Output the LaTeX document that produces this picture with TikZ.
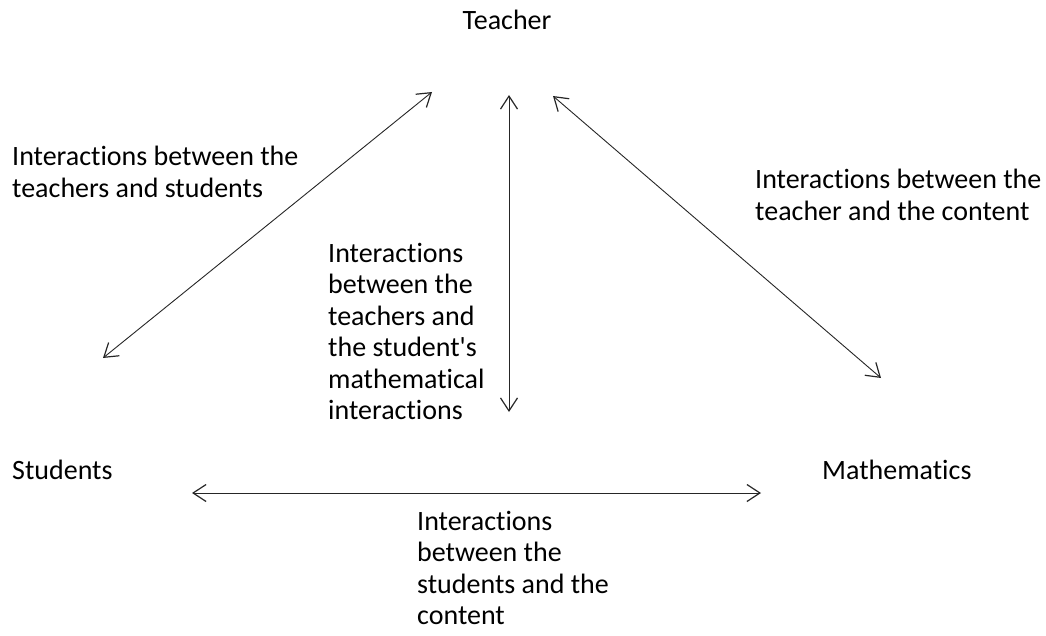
\documentclass[tikz,border=0pt]{standalone}
\usepackage{fontspec}
\setmainfont{Carlito}[Ligatures=NoCommon]
\usetikzlibrary{arrows.meta}
\begin{document}
\begin{tikzpicture}[x=1pt,y=-1pt,
  lbl/.style={inner sep=0pt, align=left, anchor=north west, font=\fontsize{28}{31.5}\selectfont},
  conn/.style={line width=0.9pt, draw=black!85, {Straight Barb[length=13pt,width=17pt,line width=1.2pt]}-{Straight Barb[length=13pt,width=17pt,line width=1.2pt]}}]
\useasboundingbox (0,0) rectangle (1046,636);
\node[lbl, anchor=north] (teacher) at (507,10) {Teacher};
\node[lbl] (students) at (12,460) {Students};
\node[lbl] (math) at (822,460) {Mathematics};
\node[lbl] (lts) at (12,146) {Interactions between the\\teachers and students};
\node[lbl] (ltc) at (755,169) {Interactions between the\\teacher and the content};
\node[lbl] (lmid) at (328,243) {Interactions\\between the\\teachers and\\the student\textquotesingle s\\mathematical\\interactions};
\node[lbl] (lsc) at (417,511) {Interactions\\between the\\students and the\\content};
\coordinate (a1) at (103,358); \coordinate (a2) at (432,92);
\coordinate (b1) at (509,95); \coordinate (b2) at (509,412);
\coordinate (c1) at (553,96); \coordinate (c2) at (881,378);
\coordinate (d1) at (192,493); \coordinate (d2) at (761,493);
\draw[conn] (a1) -- (a2);
\draw[conn] (b1) -- (b2);
\draw[conn] (c1) -- (c2);
\draw[conn] (d1) -- (d2);
\end{tikzpicture}
\end{document}
